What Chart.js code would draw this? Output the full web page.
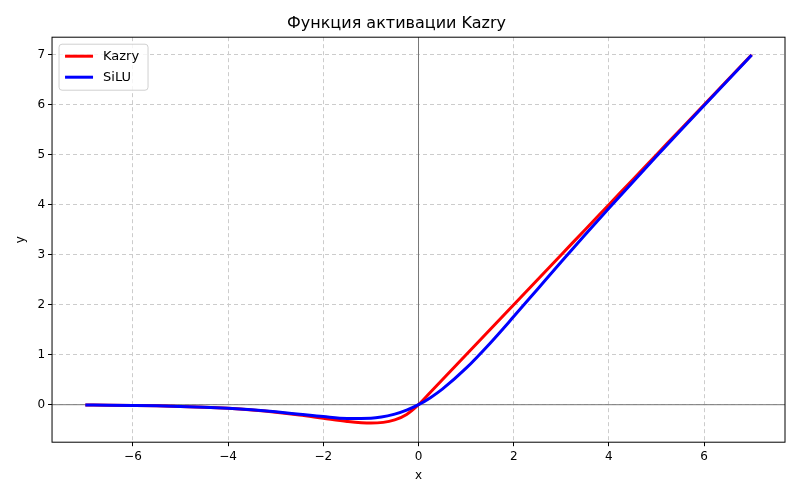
<!DOCTYPE html>
<html><head><meta charset="utf-8">
<script src="https://cdn.jsdelivr.net/npm/chart.js@4"></script>
<style>body{margin:0;background:#fff}#wrap{width:800px;height:500px}</style>
</head><body><div id="wrap"><canvas id="c"></canvas></div>
<script>
const xs = [-7,-6.5,-6,-5.5,-5,-4.5,-4,-3.5,-3,-2.5,-2,-1.5,-1,-0.5,-0.25,0,0.25,0.5,1,1.5,2,2.5,3,3.5,4,4.5,5,5.5,6,6.5,7];
const kazry = [-0.006,-0.010,-0.015,-0.022,-0.034,-0.050,-0.073,-0.106,-0.149,-0.205,-0.271,-0.335,-0.368,-0.303,-0.195,0,0.25,0.5,1,1.5,2,2.5,3,3.5,4,4.5,5,5.5,6,6.5,7];
const silu = [-0.006,-0.010,-0.015,-0.022,-0.034,-0.050,-0.072,-0.103,-0.142,-0.190,-0.238,-0.274,-0.269,-0.189,-0.110,0,0.141,0.311,0.731,1.226,1.762,2.310,2.858,3.397,3.928,4.450,4.967,5.478,5.985,6.490,6.994];
const xTicks = [-6,-4,-2,0,2,4,6];
const yTicks = [0,1,2,3,4,5,6,7];
const pts = ys => xs.map((x,i) => ({x, y: ys[i]}));

const font = {family: 'DejaVu Sans', size: 12};
const grid = {color: '#cccccc', drawTicks: true, tickColor: '#000', tickLength: 4, tickBorderDash: []};
const border = {display: false, dash: [4,3]};

const extras = {
  id: 'extras',
  beforeDatasetsDraw(ch) {
    const {ctx, chartArea: a, scales: {x, y}} = ch;
    ctx.save();
    ctx.strokeStyle = '#777'; ctx.lineWidth = 1;
    const x0 = x.getPixelForValue(0), y0 = y.getPixelForValue(0);
    ctx.beginPath(); ctx.moveTo(x0, a.top); ctx.lineTo(x0, a.bottom);
    ctx.moveTo(a.left, y0); ctx.lineTo(a.right, y0); ctx.stroke();
    ctx.restore();
  },
  afterDraw(ch) {
    const {ctx, chartArea: a} = ch;
    ctx.save();
    ctx.strokeStyle = '#000'; ctx.lineWidth = 1;
    ctx.strokeRect(a.left, a.top, a.right - a.left, a.bottom - a.top);
    const bx = a.left + 7, by = a.top + 7;
    ctx.strokeStyle = '#d0d0d0'; ctx.fillStyle = 'rgba(255,255,255,0.8)';
    ctx.beginPath(); ctx.roundRect(bx, by, 89, 46, 3); ctx.fill(); ctx.stroke();
    ctx.font = '13px DejaVu Sans'; ctx.textBaseline = 'middle';
    ch.data.datasets.forEach((d, i) => {
      const yy = by + 12 + i * 21;
      ctx.strokeStyle = d.borderColor; ctx.lineWidth = 3;
      ctx.beginPath(); ctx.moveTo(bx + 6, yy); ctx.lineTo(bx + 34, yy); ctx.stroke();
      ctx.fillStyle = '#000'; ctx.fillText(d.label, bx + 44, yy);
    });
    ctx.restore();
  }
};

new Chart(document.getElementById('c'), {
  type: 'line',
  data: { datasets: [
    { label: 'Kazry', data: pts(kazry), borderColor: 'red', borderWidth: 3, pointRadius: 0, cubicInterpolationMode: 'monotone', order: 2 },
    { label: 'SiLU', data: pts(silu), borderColor: 'blue', borderWidth: 3, pointRadius: 0, cubicInterpolationMode: 'monotone', order: 1 }
  ]},
  options: {
    responsive: true, maintainAspectRatio: false, animation: false,
    layout: { padding: { left: 8, right: 15, top: 6, bottom: 15 } },
    plugins: {
      legend: { display: false },
      title: { display: true, text: 'Функция активации Kazry', color: '#000', font: {family: 'DejaVu Sans', size: 16, weight: 'normal'}, padding: {top: 8, bottom: 4} }
    },
    scales: {
      x: { type: 'linear', min: -7.7, max: 7.7, grid, border,
        afterBuildTicks: s => { s.ticks = xTicks.map(v => ({value: v})); },
        ticks: { color: '#000', font, callback: v => v < 0 ? '\u2212' + (-v) : v },
        title: { display: true, text: 'x', color: '#000', font, padding: 2 } },
      y: { min: -0.75, max: 7.35, grid, border,
        afterBuildTicks: s => { s.ticks = yTicks.map(v => ({value: v})); },
        ticks: { color: '#000', font },
        title: { display: true, text: 'y', color: '#000', font, padding: 6 } }
    }
  },
  plugins: [extras]
});
</script></body></html>
